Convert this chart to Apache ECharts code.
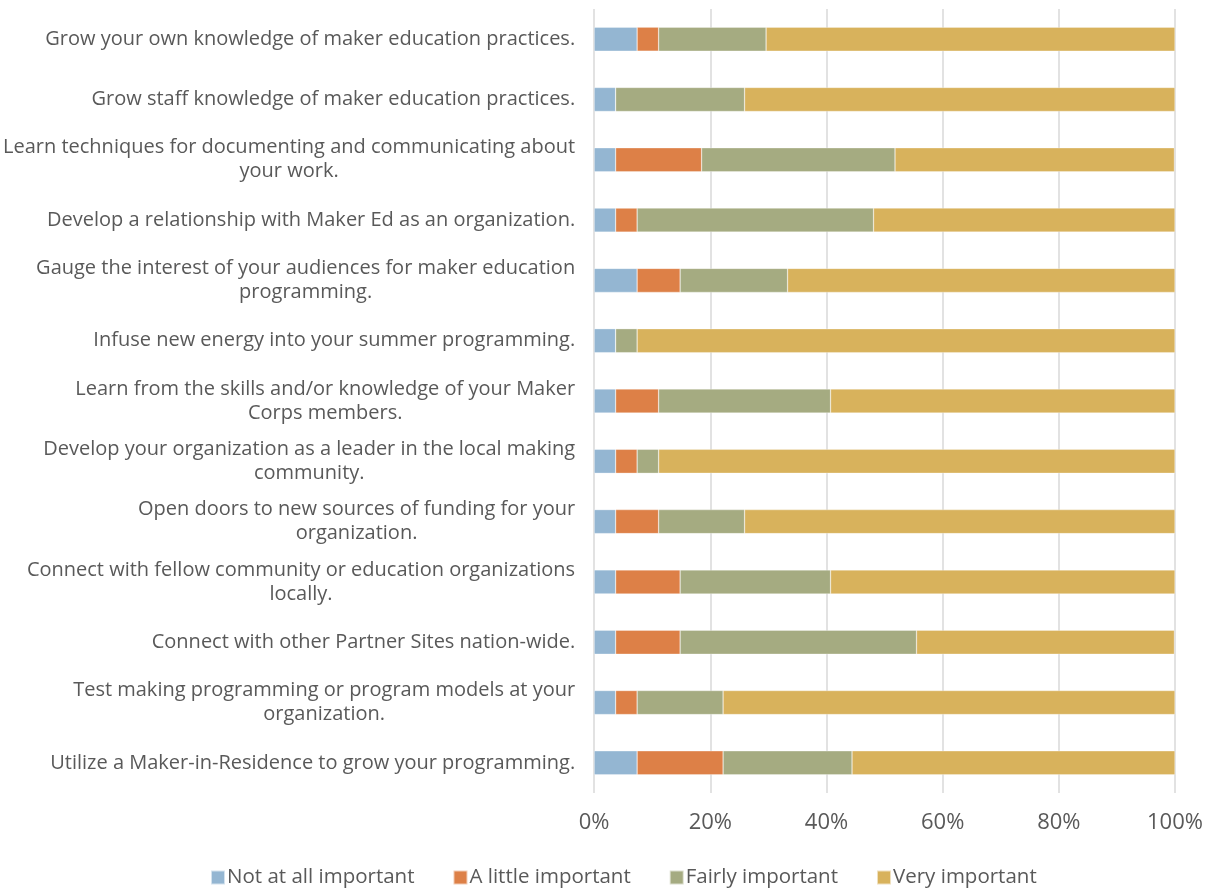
<!DOCTYPE html>
<html>
<head>
<meta charset="utf-8">
<script src="https://cdn.jsdelivr.net/npm/echarts@6/dist/echarts.min.js"></script>
<style>
  html, body { margin: 0; padding: 0; background: #fff; }
  #chart { width: 1211px; height: 888px; }
</style>
</head>
<body>
<div id="chart"></div>
<script>
// categories, top to bottom as in the picture
const categories = [
    "Grow your own knowledge of maker education practices.",
    "Grow staff knowledge of maker education practices.",
    "Learn techniques for documenting and communicating about\nyour work.",
    "Develop a relationship with Maker Ed as an organization.",
    "Gauge the interest of your audiences for maker education\nprogramming.",
    "Infuse new energy into your summer programming.",
    "Learn from the skills and/or knowledge of your Maker\nCorps members.",
    "Develop your organization as a leader in the local making\ncommunity.",
    "Open doors to new sources of funding for your\norganization.",
    "Connect with fellow community or education organizations\nlocally.",
    "Connect with other Partner Sites nation-wide.",
    "Test making programming or program models at your\norganization.",
    "Utilize a Maker-in-Residence to grow your programming."
];

const seriesNames = ["Not at all important", "A little important", "Fairly important", "Very important"];

// percent of respondents, same order as categories
const notAtAll = [7.4, 3.7, 3.7, 3.7, 7.4, 3.7, 3.7, 3.7, 3.7, 3.7, 3.7, 3.7, 7.4];
const aLittle  = [3.7, 0, 14.8, 3.7, 7.4, 0, 7.4, 3.7, 7.4, 11.1, 11.1, 3.7, 14.8];
const fairly   = [18.5, 22.2, 33.3, 40.7, 18.5, 3.7, 29.6, 3.7, 14.8, 25.9, 40.7, 14.8, 22.2];
const very     = [70.4, 74.1, 48.1, 51.9, 66.7, 92.6, 59.3, 88.9, 74.1, 59.3, 44.4, 77.8, 55.6];

const colors = ["#94B6D2", "#DD8047", "#A5AB81", "#D8B25C"];
const font = "'Open Sans', 'Noto Sans', sans-serif";

const chart = echarts.init(document.getElementById("chart"));

const makeSeries = (name, data) => ({
    name: name,
    type: "bar",
    stack: "total",
    data: data,
    barWidth: 24,
    itemStyle: {
        borderColor: "rgba(255,255,255,0.6)",
        borderWidth: 0.5
    }
});

chart.setOption({
    animation: false,
    color: colors,
    textStyle: { fontFamily: font },
    grid: {
        top: 9,
        left: 594,
        right: 36,
        bottom: 95,
        containLabel: false
    },
    legend: {
        top: 862,
        left: 205,
        itemWidth: 14,
        itemHeight: 14,
        itemGap: 38,
        icon: "rect",
        textStyle: {
            color: "#595959",
            fontSize: 20.5,
            fontFamily: font,
            padding: [0, 0, 0, -3]
        },
        data: seriesNames
    },
    xAxis: {
        type: "value",
        min: 0,
        max: 100,
        interval: 20,
        axisLine: { show: false },
        axisTick: { show: false },
        axisLabel: {
            color: "#595959",
            fontSize: 22,
            margin: 19,
            formatter: "{value}%"
        },
        splitLine: {
            lineStyle: { color: "#D9D9D9", width: 1.5 }
        }
    },
    yAxis: {
        type: "category",
        inverse: true,
        data: categories,
        axisLine: { show: false },
        axisTick: { show: false },
        axisLabel: {
            color: "#595959",
            fontSize: 20,
            margin: 19,
            lineHeight: 24,
            formatter: (v) => v.split("\n").map(s => "{c|" + s + "}").join("\n"),
            rich: {
                c: {
                    align: "center",
                    color: "#595959",
                    fontSize: 20,
                    lineHeight: 24,
                    fontFamily: font
                }
            }
        }
    },
    series: [
        makeSeries(seriesNames[0], notAtAll),
        makeSeries(seriesNames[1], aLittle),
        makeSeries(seriesNames[2], fairly),
        makeSeries(seriesNames[3], very)
    ]
});
</script>
</body>
</html>
